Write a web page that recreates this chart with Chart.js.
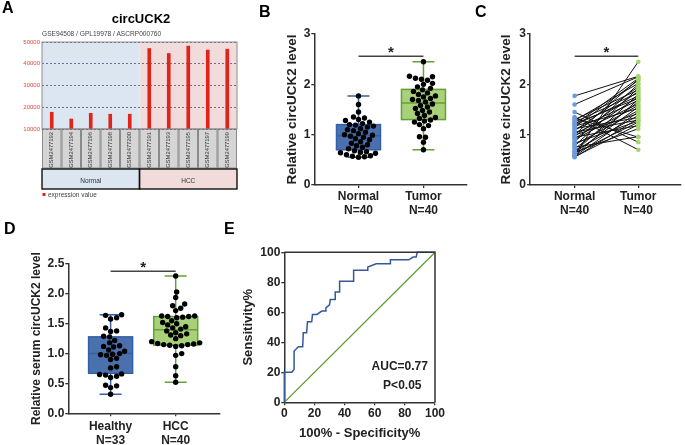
<!DOCTYPE html>
<html><head><meta charset="utf-8">
<script src="https://cdn.jsdelivr.net/npm/chart.js@4.4.1/dist/chart.umd.min.js"></script>
<style>
html,body{margin:0;padding:0;background:#fff;width:685px;height:445px;overflow:hidden;font-family:'Liberation Sans',Arial,Helvetica,sans-serif}
canvas{position:absolute;left:0;top:0;width:685px;height:445px}
.t{position:absolute;line-height:1;color:#000;white-space:nowrap}
.L{font-weight:bold;font-size:16px}
</style></head>
<body>
<canvas id="cA" width="685" height="445"></canvas>
<canvas id="cB" width="685" height="445"></canvas>
<canvas id="cC" width="685" height="445"></canvas>
<canvas id="cD" width="685" height="445"></canvas>
<canvas id="cE" width="685" height="445"></canvas>
<div class="t L" style="left:2px;top:0px">A</div>
<div class="t L" style="left:259px;top:4px">B</div>
<div class="t L" style="left:475px;top:4px">C</div>
<div class="t L" style="left:4px;top:221px">D</div>
<div class="t L" style="left:224px;top:221px">E</div>
<div class="t" style="left:91px;width:100px;text-align:center;top:11.6px;font-size:13px;font-weight:bold">circUCK2</div>
<div class="t" style="left:42px;top:30.8px;font-size:6.6px;color:#444">GSE94508 / GPL19978 / ASCRP000760</div>
<script>
const FONT = "'Liberation Sans', Arial, Helvetica, sans-serif";
Chart.defaults.font.family = FONT;
Chart.defaults.color = '#222';
const W = 685, H = 445;

// ---------------- DATA ----------------
// Panel A (GEO profile)
const samplesA = ['GSM2477192','GSM2477194','GSM2477196','GSM2477198','GSM2477200','GSM2477191','GSM2477193','GSM2477195','GSM2477197','GSM2477199'];
const expressionA = [17700, 14600, 17200, 16800, 16800, 47000, 44700, 48100, 46300, 46700];
const groupNamesA = ['Normal', 'HCC'];
const groupSizesA = [5, 5];
const seriesNameA = 'expression value';

// Panels B / C (paired tissue, same samples)
const groupsBC = ['Normal', 'Tumor'];
const normalTissue = [0.55,0.56,0.57,0.58,0.60,0.63,0.64,0.65,0.66,0.68,0.72,0.75,0.78,0.80,0.83,0.86,0.90,0.92,0.95,0.97,0.99,1.00,1.02,1.05,1.08,1.10,1.12,1.15,1.17,1.19,1.20,1.22,1.25,1.28,1.30,1.33,1.35,1.45,1.60,1.77];
const tumorTissue  = [1.32,1.20,1.45,1.70,2.45,1.25,1.55,1.12,1.80,1.38,1.65,0.96,1.92,1.48,1.27,2.00,1.58,1.75,1.18,1.86,1.42,2.10,1.61,1.29,1.95,1.68,1.34,2.08,1.52,1.77,2.12,1.72,1.83,2.02,1.89,0.95,0.70,0.85,2.15,2.16];
// box stats: min, q1, median, q3, max
const boxNormal = [0.55, 0.70, 0.98, 1.20, 1.77];
const boxTumor  = [0.70, 1.30, 1.63, 1.90, 2.45];

// Panel D (serum)
const groupsD = ['Healthy', 'HCC'];
const healthySerum = [0.32,0.43,0.46,0.47,0.60,0.62,0.64,0.65,0.66,0.76,0.78,0.90,0.92,0.97,0.98,0.99,1.00,1.04,1.06,1.11,1.12,1.13,1.18,1.22,1.28,1.29,1.37,1.38,1.43,1.58,1.60,1.64,1.65];
const hccSerum = [0.52,0.63,0.78,0.97,1.00,1.12,1.13,1.14,1.15,1.15,1.16,1.17,1.18,1.20,1.25,1.30,1.31,1.33,1.35,1.38,1.41,1.43,1.45,1.48,1.50,1.52,1.55,1.60,1.61,1.62,1.62,1.63,1.63,1.72,1.76,1.80,1.83,1.94,2.03,2.30];
const boxHealthy = [0.32, 0.67, 1.00, 1.28, 1.65];
const boxHcc     = [0.52, 1.14, 1.40, 1.62, 2.30];

// Panel E (ROC)
const rocFpr = [0,0,5,6.5,6.5,9.4,12.2,12.6,14.8,15.4,18.2,18.7,21.6,24.9,27.1,27.6,30,30.5,33.8,33.8,36.7,36.7,46,46,55.4,55.4,61,70.4,70.4,82.6,85.5,87.5,88.2,100];
const rocTpr = [0,20,20,22,34.2,37,37,46.4,46.4,53.7,53.7,58.6,58.6,60.8,60.8,63,65,68.5,68.5,73.6,73.6,80.7,80.7,88,88,90.2,92.4,92.4,95,95,96.8,96.8,100,100];
const aucLabel = 'AUC=0.77';
const pLabel = 'P<0.05';

// ---------------- LAYOUT / STYLE ----------------
const areaA = {left:42, right:237, top:42, bottom:129};
const areaB = {left:314.3, right:467, top:34, bottom:185};
const areaC = {left:530, right:684, top:34, bottom:185};
const areaD = {left:68.3, right:219.3, top:264, bottom:413.3};
const areaE = {left:284.3, right:435, top:252.3, bottom:402.3};
const AXC = '#333';
const BLUE = {fill:'#4a71ad', line:'#3460a8'};
const GREEN = {fill:'#a8d179', line:'#62a236'};

function pad(area, yW, xH){ return {left: area.left - yW, top: area.top, right: W - area.right, bottom: H - area.bottom - xH}; }
function base(area, yW, xH){
  return { responsive:false, animation:false, devicePixelRatio:1, events:[],
    layout:{padding: pad(area, yW, xH)},
    plugins:{legend:{display:false}, tooltip:{enabled:false}, title:{display:false}} };
}
function numAxis(position, min, max, step, o){
  return { type:'linear', position, min, max,
    afterBuildTicks: s => { const t=[]; for(let v=min; v<=max+1e-9; v+=step) t.push({value: Math.round(v*1000)/1000}); s.ticks=t; },
    afterFit: s => { if (position==='left') s.width = o.fit; else s.height = o.fit; },
    ticks:{ font:{size:12, weight:'bold'}, color:'#222', padding:o.pad, callback: v => Number(v).toFixed(o.digits) },
    grid:{ drawOnChartArea:false, drawTicks:true, tickLength:3, color:AXC, lineWidth:1.3 },
    border:{ display:true, color:AXC, width:1.5 },
    title:{ display: !!o.title, text:o.title || '', font:{size:o.tsize, weight:'bold'}, color:'#222', padding:0 } };
}
function catAxis(min, max, cats, counts, xH, pd){
  return { type:'linear', position:'bottom', min, max,
    afterBuildTicks: s => { s.ticks = cats.map((c,i)=>({value:i+1})); },
    afterFit: s => { s.height = xH; },
    ticks:{ font:{size:12, weight:'bold', lineHeight:1.17}, color:'#222', padding:pd, autoSkip:false, maxRotation:0, minRotation:0,
      callback:(v,i)=>[cats[i], 'N=' + counts[i]] },
    grid:{ drawOnChartArea:false, drawTicks:true, tickLength:3, color:AXC, lineWidth:1.3 },
    border:{ display:true, color:AXC, width:1.5 } };
}
// beeswarm layout of dots around a category centre (pixel-based collision)
function swarm(values, center, pxX, pxY, d){
  const idx = values.map((v,i)=>i).sort((a,b)=>values[a]-values[b]);
  const placed = []; const out = new Array(values.length);
  for (const i of idx){
    const py = values[i]*pxY; let off = 0;
    for (let k=0; k<200; k++){
      const c = k===0 ? 0 : (k%2 ? 1 : -1) * Math.ceil(k/2);
      if (placed.every(p => Math.hypot(p.x-c, p.y-py) >= d)) { off = c; break; }
    }
    placed.push({x:off, y:py});
    out[i] = {x: center + off/pxX, y: values[i]};
  }
  return out;
}
function boxPlugin(stats, styles, halfW, capW){
  return { id:'boxes', beforeDatasetsDraw(chart){
    const {ctx, scales:{x, y}} = chart;
    stats.forEach((s,i)=>{
      const st = styles[i], xc = x.getPixelForValue(i+1);
      const [mn,q1,md,q3,mx] = s.map(v => y.getPixelForValue(v));
      ctx.save(); ctx.strokeStyle = st.line; ctx.lineWidth = 1.5;
      ctx.beginPath();
      ctx.moveTo(xc,q3); ctx.lineTo(xc,mx); ctx.moveTo(xc,q1); ctx.lineTo(xc,mn);
      ctx.moveTo(xc-capW,mx); ctx.lineTo(xc+capW,mx); ctx.moveTo(xc-capW,mn); ctx.lineTo(xc+capW,mn);
      ctx.stroke();
      ctx.fillStyle = st.fill; ctx.fillRect(xc-halfW, q3, 2*halfW, q1-q3);
      ctx.strokeRect(xc-halfW, q3, 2*halfW, q1-q3);
      ctx.beginPath(); ctx.moveTo(xc-halfW, md); ctx.lineTo(xc+halfW, md); ctx.stroke();
      ctx.restore();
    });
  }};
}
function sigPlugin(level){
  return { id:'sig', afterDatasetsDraw(chart){
    const {ctx, scales:{x, y}} = chart;
    const x1 = x.getPixelForValue(1), x2 = x.getPixelForValue(2), yy = y.getPixelForValue(level);
    ctx.save(); ctx.strokeStyle = '#444'; ctx.lineWidth = 1.5;
    ctx.beginPath(); ctx.moveTo(x1, yy); ctx.lineTo(x2, yy); ctx.stroke();
    ctx.fillStyle = '#222'; ctx.font = 'bold 15px ' + FONT; ctx.textAlign = 'center'; ctx.textBaseline = 'alphabetic';
    ctx.fillText('*', (x1+x2)/2, yy + 1);
    ctx.restore();
  }};
}

// ---------------- PANEL A ----------------
const groupFillsA = ['#dce6f1', '#f2dcdb'];
const geoPlugin = {
  id:'geo',
  beforeDraw(chart){
    const {ctx, chartArea:a, scales:{x}} = chart;
    const n = samplesA.length, cell = (a.right - a.left)/n;
    const rowTop = a.bottom, rowBot = a.bottom + 39, grpTop = rowBot + 1, grpBot = grpTop + 20;
    ctx.save();
    let start = 0; const spans = [];
    groupNamesA.forEach((g,k)=>{
      const l = x.getPixelForValue(start) - cell/2, r = x.getPixelForValue(start + groupSizesA[k] - 1) + cell/2;
      spans.push([l, r]);
      ctx.fillStyle = groupFillsA[k]; ctx.fillRect(l, a.top, r-l, grpBot - a.top);
      start += groupSizesA[k];
    });
    for (let i=0; i<n; i++){
      const c = x.getPixelForValue(i);
      ctx.fillStyle = '#d5d5d5'; ctx.fillRect(c - cell/2 + 0.5, rowTop, cell - 1, rowBot - rowTop);
      ctx.strokeStyle = '#8a8a8a'; ctx.lineWidth = 1; ctx.strokeRect(c - cell/2 + 0.5, rowTop, cell - 1, rowBot - rowTop);
    }
    ctx.font = '6.5px ' + FONT; ctx.textAlign = 'center'; ctx.textBaseline = 'middle';
    groupNamesA.forEach((g,k)=>{
      const [l, r] = spans[k];
      ctx.strokeStyle = '#111'; ctx.lineWidth = 1.4; ctx.strokeRect(l, grpTop, r-l, grpBot - grpTop);
      ctx.fillStyle = '#333'; ctx.fillText(g, (l+r)/2, grpTop + 12);
    });
    ctx.fillStyle = '#e2231a'; ctx.fillRect(a.left + 0.5, grpBot + 4, 3, 3);
    ctx.fillStyle = '#444'; ctx.textAlign = 'left'; ctx.fillText(seriesNameA, a.left + 6, grpBot + 6);
    ctx.restore();
  },
  afterDatasetsDraw(chart){
    const {ctx, chartArea:a} = chart;
    ctx.save(); ctx.strokeStyle = '#8c8c8c'; ctx.lineWidth = 1;
    ctx.strokeRect(a.left, a.top, a.right - a.left, a.bottom - a.top); ctx.restore();
  }
};
new Chart(document.getElementById('cA'), {
  type:'bar',
  data:{ labels: samplesA, datasets:[{ data: expressionA, backgroundColor:'#e2231a', barThickness:3, borderWidth:0 }] },
  options:{ ...base(areaA, 42, 39),
    scales:{
      x:{ afterFit: s => { s.height = 39; }, grid:{display:false, drawTicks:false}, border:{display:false},
          ticks:{ autoSkip:false, minRotation:90, maxRotation:90, font:{size:5.8}, color:'#333', padding:3 } },
      y:{ min:10000, max:50000, afterFit: s => { s.width = 42; },
          ticks:{ stepSize:10000, font:{size:6}, color:'#e0473b', padding:2, callback: v => String(v) },
          grid:{ color:'#3b3b6b', drawTicks:false, lineWidth:0.7 }, border:{ display:false, dash:[2,2] } }
    } },
  plugins:[geoPlugin]
});

// ---------------- PANEL B ----------------
const xrB = [0.32, 2.67];
const pxB = {x:(areaB.right-areaB.left)/(xrB[1]-xrB[0]), y:(areaB.bottom-areaB.top)/3};
new Chart(document.getElementById('cB'), {
  type:'scatter',
  data:{ datasets:[
    { data: swarm(normalTissue, 1, pxB.x, pxB.y, 5.4), backgroundColor:'#000', borderWidth:0, pointRadius:2.7 },
    { data: swarm(tumorTissue, 2, pxB.x, pxB.y, 5.4), backgroundColor:'#000', borderWidth:0, pointRadius:2.7 }
  ]},
  options:{ ...base(areaB, 30.4, 40),
    scales:{
      x: catAxis(xrB[0], xrB[1], groupsBC, [normalTissue.length, tumorTissue.length], 40, 1.5),
      y: numAxis('left', 0, 3, 1, {fit:30.4, pad:1, digits:0, title:'Relative circUCK2 level', tsize:13.5})
    } },
  plugins:[boxPlugin([boxNormal, boxTumor], [BLUE, GREEN], 22, 11), sigPlugin(2.56)]
});

// ---------------- PANEL C ----------------
const xrC = [0.30, 2.67];
const pairSets = normalTissue.map((n,i)=>({ data:[{x:1, y:n}, {x:2, y:tumorTissue[i]}], showLine:true,
  borderColor:'#111', borderWidth:1, pointRadius:0 }));
new Chart(document.getElementById('cC'), {
  type:'scatter',
  data:{ datasets:[
    { data: normalTissue.map(v=>({x:1, y:v})), backgroundColor:'#6f9ad8', borderWidth:0, pointRadius:2.3 },
    { data: tumorTissue.map(v=>({x:2, y:v})), backgroundColor:'#a3d46e', borderWidth:0, pointRadius:2.3 },
    ...pairSets
  ]},
  options:{ ...base(areaC, 31.4, 40),
    scales:{
      x: catAxis(xrC[0], xrC[1], groupsBC, [normalTissue.length, tumorTissue.length], 40, 1.5),
      y: numAxis('left', 0, 3, 1, {fit:31.4, pad:1, digits:0, title:'Relative circUCK2 level', tsize:13.5})
    } },
  plugins:[sigPlugin(2.56)]
});

// ---------------- PANEL D ----------------
const xrD = [0.35, 2.67];
const pxD = {x:(areaD.right-areaD.left)/(xrD[1]-xrD[0]), y:(areaD.bottom-areaD.top)/2.5};
new Chart(document.getElementById('cD'), {
  type:'scatter',
  data:{ datasets:[
    { data: swarm(healthySerum, 1, pxD.x, pxD.y, 5.4), backgroundColor:'#000', borderWidth:0, pointRadius:2.7 },
    { data: swarm(hccSerum, 2, pxD.x, pxD.y, 5.4), backgroundColor:'#000', borderWidth:0, pointRadius:2.7 }
  ]},
  options:{ ...base(areaD, 38.8, 31),
    scales:{
      x: catAxis(xrD[0], xrD[1], groupsD, [healthySerum.length, hccSerum.length], 31, 3),
      y: numAxis('left', 0, 2.5, 0.5, {fit:38.8, pad:1, digits:1, title:'Relative serum circUCK2 level', tsize:12})
    } },
  plugins:[boxPlugin([boxHealthy, boxHcc], [BLUE, GREEN], 22, 11), sigPlugin(2.38)]
});

// ---------------- PANEL E ----------------
const rocE = {
  id:'rocExtras',
  afterDatasetsDraw(chart){
    const {ctx, chartArea:a, scales:{x, y}} = chart;
    ctx.save(); ctx.strokeStyle = AXC; ctx.lineWidth = 1.5;
    ctx.beginPath(); ctx.moveTo(a.left, a.top); ctx.lineTo(a.right, a.top); ctx.lineTo(a.right, a.bottom); ctx.stroke();
    ctx.fillStyle = '#222'; ctx.font = 'bold 12px ' + FONT; ctx.textAlign = 'center'; ctx.textBaseline = 'middle';
    ctx.fillText(aucLabel, x.getPixelForValue(76.6), y.getPixelForValue(23.5));
    ctx.fillText(pLabel, x.getPixelForValue(78.3), y.getPixelForValue(10.9));
    ctx.restore();
  }
};
new Chart(document.getElementById('cE'), {
  type:'scatter',
  data:{ datasets:[
    { data: rocFpr.map((v,i)=>({x:v, y:rocTpr[i]})), showLine:true, borderColor:'#34589e', borderWidth:1.5, pointRadius:0, clip:false },
    { data: [{x:0,y:0},{x:100,y:100}], showLine:true, borderColor:'#5c9a2c', borderWidth:1.2, pointRadius:0 }
  ]},
  options:{ ...base(areaE, 43.6, 38.5),
    scales:{
      x: numAxis('bottom', 0, 100, 20, {fit:38.5, pad:1.5, digits:0, title:'100% - Specificity%', tsize:13}),
      y: numAxis('left', 0, 100, 20, {fit:43.6, pad:1, digits:0, title:'Sensitivity%', tsize:13})
    } },
  plugins:[rocE]
});
</script>
</body></html>
